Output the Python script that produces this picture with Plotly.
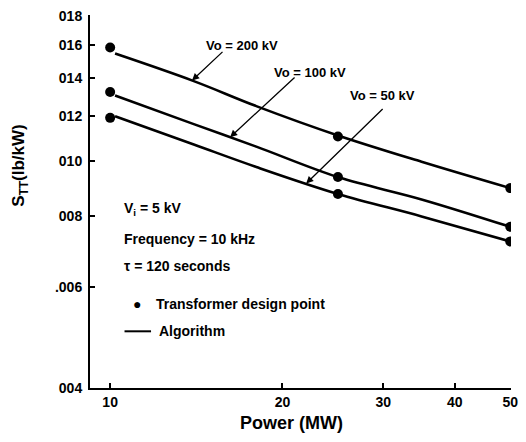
import numpy as np
import plotly.graph_objects as go

# Transformer design points
power_points = [10, 25, 50]
pts_200 = [0.01584, 0.01105, 0.00897]
pts_100 = [0.01323, 0.00938, 0.00767]
pts_50 = [0.01192, 0.00876, 0.00723]

# Algorithm curves
power_alg = [10.2, 14, 18, 25, 35, 50]
alg_200 = [0.01546, 0.01383, 0.0125, 0.0111, 0.00998, 0.00897]
alg_100 = [0.01305, 0.01162, 0.01061, 0.00938, 0.00857, 0.00767]
alg_50 = [0.0120, 0.0107, 0.00977, 0.00876, 0.00800, 0.00723]

series_labels = ["Vo = 200 kV", "Vo = 100 kV", "Vo = 50 kV"]
label_power = [13.9, 16.2, 22.0]

x_tickvals = [10, 20, 30, 40, 50]
x_ticktext = ["10", "20", "30", "40", "50"]
y_tickvals = [0.004, 0.006, 0.008, 0.010, 0.012, 0.014, 0.016, 0.018]
y_ticktext = ["004", ".006", "008", "010", "012", "014", "016", "018"]

FONT = "Liberation Sans"
fig = go.Figure()

for alg in (alg_200, alg_100, alg_50):
    fig.add_trace(go.Scatter(x=power_alg, y=alg, mode="lines",
                             line=dict(color="black", width=2.6, shape="spline", smoothing=1.0),
                             showlegend=False, hoverinfo="skip"))
for pts in (pts_200, pts_100, pts_50):
    fig.add_trace(go.Scatter(x=power_points, y=pts, mode="markers",
                             marker=dict(color="black", size=10),
                             showlegend=False))

annotations = []
offsets = [(32, -30), (66, -61), (78, -76)]
text_pos = [(0.360, 0.917), (0.523, 0.845), (0.694, 0.783)]
for alg, lab, p, (ax, ay), (tx, ty) in zip((alg_200, alg_100, alg_50), series_labels,
                                          label_power, offsets, text_pos):
    yv = np.interp(np.log10(p), np.log10(power_alg), np.log10(alg))
    annotations.append(dict(x=np.log10(p), y=yv, xref="x", yref="y", text="",
                            showarrow=True, arrowhead=2, arrowsize=1.1,
                            arrowwidth=1.3, arrowcolor="black", ax=ax, ay=ay))
    annotations.append(dict(x=tx, y=ty, xref="paper", yref="paper", text=lab,
                            showarrow=False, xanchor="center", yanchor="middle",
                            font=dict(family=FONT, size=13, color="black", weight="bold")))

block = [("V<sub>i</sub> = 5 kV", 0.480), ("Frequency = 10 kHz", 0.400),
         ("τ = 120 seconds", 0.328)]
for t, y in block:
    annotations.append(dict(x=0.077, y=y, xref="paper", yref="paper", text=t,
                            showarrow=False, xanchor="left", yanchor="middle",
                            font=dict(family=FONT, size=14, color="black", weight="bold")))
annotations.append(dict(x=0.112, y=0.224, xref="paper", yref="paper", text="●",
                        showarrow=False, xanchor="center", yanchor="middle",
                        font=dict(family=FONT, size=14, color="black")))
annotations.append(dict(x=0.152, y=0.224, xref="paper", yref="paper",
                        text="Transformer design point", showarrow=False,
                        xanchor="left", yanchor="middle",
                        font=dict(family=FONT, size=14, color="black", weight="bold")))
annotations.append(dict(x=0.158, y=0.152, xref="paper", yref="paper",
                        text="Algorithm", showarrow=False,
                        xanchor="left", yanchor="middle",
                        font=dict(family=FONT, size=14, color="black", weight="bold")))
annotations.append(dict(x=-0.166, y=0.596, xref="paper", yref="paper",
                        text="S<sub>TT</sub>(lb/kW)", textangle=-90, showarrow=False,
                        xanchor="center", yanchor="middle",
                        font=dict(family=FONT, size=17, color="black", weight="bold")))
annotations.append(dict(x=0.479, y=-0.095, xref="paper", yref="paper",
                        text="Power (MW)", showarrow=False,
                        xanchor="center", yanchor="middle",
                        font=dict(family=FONT, size=18, color="black", weight="bold")))

fig.update_layout(
    width=526, height=442,
    margin=dict(l=90, r=8, t=14, b=54),
    paper_bgcolor="white", plot_bgcolor="white",
    annotations=annotations,
    shapes=[dict(type="line", xref="paper", yref="paper", x0=0.082, x1=0.145,
                 y0=0.152, y1=0.152, line=dict(color="black", width=2))],
    xaxis=dict(type="log", range=[0.9648, 1.7003], tickvals=x_tickvals,
               ticktext=x_ticktext, ticks="inside", ticklen=5, tickwidth=1.5,
               tickcolor="black", showline=True, linecolor="black", linewidth=2,
               showgrid=False, zeroline=False, ticklabeloverflow="allow",
               tickfont=dict(family=FONT, size=14, color="black", weight="bold")),
    yaxis=dict(type="log", range=[-2.3985, -1.743], tickvals=y_tickvals,
               ticktext=y_ticktext, ticks="inside", ticklen=5, tickwidth=1.5,
               tickcolor="black", showline=True, linecolor="black", linewidth=2,
               showgrid=False, zeroline=False, ticklabelstandoff=3,
               ticklabeloverflow="allow",
               tickfont=dict(family=FONT, size=14, color="black", weight="bold")),
)

# remove the page's default 8px body margin so the figure fills the window exactly
fig.write_html("out.html", config={"displayModeBar": False},
               post_script="document.body.style.margin='0';")
